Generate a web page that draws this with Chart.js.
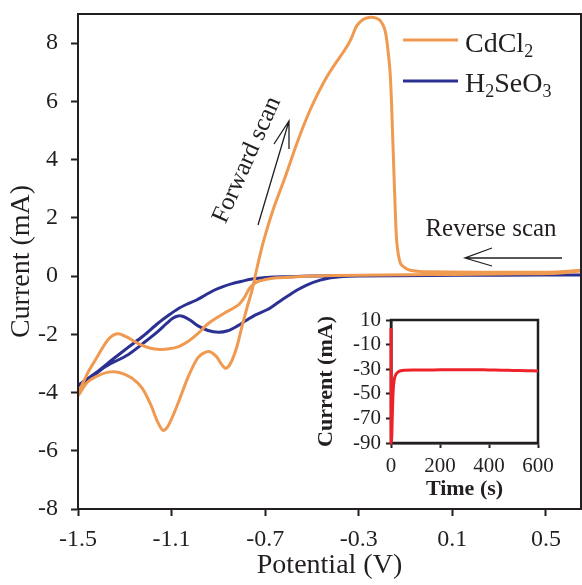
<!DOCTYPE html>
<html><head><meta charset="utf-8">
<script src="https://cdn.jsdelivr.net/npm/chart.js@4"></script>
<style>
html,body{margin:0;padding:0;background:#fff;}
#wrap{position:relative;width:582px;height:585px;overflow:hidden;}
#main{position:absolute;left:0;top:0;}
#inset{position:absolute;left:300px;top:300px;}
</style></head><body>
<div id="wrap"><canvas id="main" width="582" height="585"></canvas><canvas id="inset" width="270" height="205"></canvas></div>
<script>
// ---- data ----
const potentialTicks = [-1.5, -1.1, -0.7, -0.3, 0.1, 0.5];
const currentTicks = [-8, -6, -4, -2, 0, 2, 4, 6, 8];
const seriesNames = ['CdCl2', 'H2SeO3'];

const cdcl2Potential = [0.65, 0.55, 0.4, 0.2, 0.0, -0.2, -0.4, -0.5, -0.58, -0.65, -0.70, -0.735,
  -0.765, -0.79, -0.816, -0.88, -0.943, -0.987, -1.03, -1.07, -1.11, -1.15, -1.19, -1.24, -1.29, -1.33, -1.37, -1.427, -1.46, -1.5,
  -1.46, -1.427, -1.37, -1.32, -1.27, -1.226, -1.19, -1.16, -1.136, -1.115, -1.085, -1.055, -1.03, -0.987, -0.944, -0.91, -0.885, -0.868, -0.845, -0.82, -0.80, -0.778, -0.756, -0.734,
  -0.709, -0.666, -0.614, -0.563, -0.507, -0.435, -0.358, -0.344, -0.33, -0.308, -0.28, -0.251, -0.225, -0.208, -0.19, -0.179, -0.165, -0.154, -0.144, -0.137, -0.122, -0.1, -0.08, -0.04, 0.0, 0.2, 0.4, 0.55, 0.65];
const cdcl2Current = [0.17, 0.1, 0.08, 0.06, 0.05, 0.04, 0.02, 0.0, -0.03, -0.06, -0.12, -0.2,
  -0.4, -0.75, -1.0, -1.3, -1.63, -1.97, -2.25, -2.42, -2.5, -2.52, -2.48, -2.33, -2.1, -1.98, -2.17, -2.9, -3.35, -4.1,
  -3.65, -3.47, -3.3, -3.32, -3.5, -3.85, -4.4, -5.0, -5.3, -5.15, -4.62, -4.0, -3.48, -2.8, -2.59, -2.75, -3.05, -3.17, -2.95, -2.4, -1.76, -1.1, -0.48, 0.31,
  1.14, 2.28, 3.41, 4.59, 5.72, 6.86, 7.79, 7.97, 8.2, 8.6, 8.82, 8.89, 8.86, 8.77, 8.5, 8.02, 6.87, 4.58, 2.28, 1.13, 0.44, 0.27, 0.2, 0.16, 0.15, 0.13, 0.13, 0.14, 0.2];

const h2seo3Potential = [0.65, 0.3, 0.0, -0.3, -0.5, -0.6, -0.66, -0.709, -0.756, -0.80, -0.841, -0.88, -0.914, -0.955, -0.995, -1.03, -1.072, -1.11, -1.158, -1.22, -1.286, -1.35, -1.42, -1.5,
  -1.45, -1.38, -1.286, -1.22, -1.158, -1.12, -1.095, -1.072, -1.05, -1.02, -0.985, -0.944, -0.90, -0.86, -0.82, -0.78, -0.743, -0.69, -0.64, -0.6, -0.563, -0.52, -0.465, -0.42, -0.38, -0.3, 0.0, 0.3, 0.65];
const h2seo3Current = [0.04, 0.03, 0.02, 0.01, 0.0, -0.02, -0.03, -0.06, -0.1, -0.18, -0.26, -0.36, -0.47, -0.65, -0.83, -0.95, -1.12, -1.33, -1.62, -2.05, -2.45, -2.85, -3.3, -3.76,
  -3.52, -3.1, -2.7, -2.3, -1.9, -1.62, -1.45, -1.37, -1.39, -1.52, -1.72, -1.87, -1.93, -1.88, -1.72, -1.52, -1.34, -1.15, -0.88, -0.67, -0.48, -0.3, -0.14, -0.06, -0.02, 0.0, 0.02, 0.03, 0.04];

const timeTicks = [0, 200, 400, 600];
const insetCurrentTicks = [10, -10, -30, -50, -70, -90];
const insetTime = [0, 0.6, 3, 5.4, 9.5, 16, 30, 57, 100, 150, 200, 250, 300, 350, 400, 450, 500, 550, 600];
const insetCurrent = [3.5, -90, -85, -67, -45.5, -36, -32, -30.9, -30.7, -30.6, -30.5, -30.4, -30.4, -30.5, -30.6, -30.8, -31.0, -31.2, -31.4];

// ---- styles ----
const SERIF = "'Liberation Serif', 'Times New Roman', serif";
const INK = '#231f20';
const ORANGE = '#EF9A50';
const BLUE = '#2B3192';
const RED = '#EE2229';

const toXY = (xs, ys) => xs.map((x, i) => ({x, y: ys[i]}));
const noPadX = (h) => s => { s.height = h; s.paddingLeft = 0; s.paddingRight = 0; s.paddingTop = 0; s.paddingBottom = 0; };
const noPadY = (w) => s => { s.width = w; s.paddingTop = 0; s.paddingBottom = 0; s.paddingLeft = 0; s.paddingRight = 0; };

const framePlugin = {
  id: 'frame',
  afterDatasetsDraw(chart, args, opts) {
    const {ctx, chartArea: a} = chart;
    ctx.save();
    ctx.strokeStyle = INK; ctx.lineWidth = opts.width || 2;
    ctx.strokeRect(a.left, a.top, a.right - a.left, a.bottom - a.top);
    ctx.restore();
  }
};

function arrow(ctx, x1, y1, x2, y2, h1, h2) {
  ctx.beginPath();
  ctx.moveTo(x1, y1); ctx.lineTo(x2, y2);
  ctx.moveTo(h1[0], h1[1]); ctx.lineTo(x2, y2); ctx.lineTo(h2[0], h2[1]);
  ctx.stroke();
}
function subText(ctx, parts, x, y, size, subSize) {
  let cx = x;
  parts.forEach(p => {
    const isSub = p.startsWith('_');
    const t = isSub ? p.slice(1) : p;
    ctx.font = (isSub ? subSize : size) + 'px ' + SERIF;
    ctx.fillText(t, cx, isSub ? y + 5 : y);
    cx += ctx.measureText(t).width;
  });
}

const annotPlugin = {
  id: 'annot',
  afterDraw(chart) {
    const ctx = chart.ctx;
    ctx.save();
    // legend
    ctx.lineWidth = 3;
    ctx.strokeStyle = ORANGE;
    ctx.beginPath(); ctx.moveTo(403, 40); ctx.lineTo(458, 40); ctx.stroke();
    ctx.strokeStyle = BLUE;
    ctx.beginPath(); ctx.moveTo(403, 81); ctx.lineTo(458, 81); ctx.stroke();
    ctx.fillStyle = INK;
    ctx.textBaseline = 'alphabetic'; ctx.textAlign = 'left';
    subText(ctx, ['CdCl', '_2'], 465, 52, 28, 18);
    subText(ctx, ['H', '_2', 'SeO', '_3'], 465, 92, 28, 18);
    // arrows
    ctx.strokeStyle = INK; ctx.lineWidth = 1.3;
    arrow(ctx, 258, 225, 289, 121, [274, 144], [289, 149]);
    arrow(ctx, 562, 258, 465, 258, [492, 248], [492, 266]);
    // texts
    ctx.font = '25px ' + SERIF;
    ctx.textAlign = 'center'; ctx.textBaseline = 'middle';
    ctx.fillText('Reverse scan', 491, 229);
    ctx.translate(247, 160);
    ctx.rotate(-66 * Math.PI / 180);
    ctx.fillText('Forward scan', 0, 0);
    ctx.restore();
  }
};

const axisGrid = (len, w) => ({display: true, drawOnChartArea: false, drawTicks: true, tickLength: len, tickWidth: w, tickColor: INK, color: INK});

new Chart(document.getElementById('main'), {
  type: 'scatter',
  data: {
    datasets: [
      {label: seriesNames[0], data: toXY(cdcl2Potential, cdcl2Current), borderColor: ORANGE, showLine: true},
      {label: seriesNames[1], data: toXY(h2seo3Potential, h2seo3Current), borderColor: BLUE, showLine: true}
    ]
  },
  options: {
    responsive: false, animation: false, devicePixelRatio: 1,
    layout: {padding: {top: 14, right: 1, left: 0, bottom: 0}},
    plugins: {legend: {display: false}, tooltip: {enabled: false}, frame: {width: 2}},
    elements: {point: {radius: 0}, line: {borderWidth: 3, tension: 0.3, fill: false}},
    scales: {
      x: {
        type: 'linear', min: -1.5, max: 0.65,
        afterBuildTicks: s => { s.ticks = potentialTicks.map(v => ({value: v})); },
        afterFit: noPadX(76),
        grid: axisGrid(7, 2),
        border: {display: true, color: INK, width: 2},
        ticks: {font: {family: SERIF, size: 24}, color: INK, padding: 9, maxRotation: 0, autoSkip: false, callback: v => v.toFixed(1)},
        title: {display: true, text: 'Potential (V)', font: {family: SERIF, size: 28, lineHeight: 1.2}, color: INK, padding: {top: 0, bottom: 3}}
      },
      y: {
        type: 'linear', min: -8, max: 9,
        afterBuildTicks: s => { s.ticks = currentTicks.map(v => ({value: v})); },
        afterFit: noPadY(78),
        grid: axisGrid(7, 2),
        border: {display: true, color: INK, width: 2},
        ticks: {font: {family: SERIF, size: 24}, color: INK, padding: 13, autoSkip: false, callback: v => String(v)},
        title: {display: true, text: 'Current (mA)', font: {family: SERIF, size: 28, lineHeight: 1.2}, color: INK, padding: {top: 5, bottom: 0}}
      }
    }
  },
  plugins: [framePlugin, annotPlugin]
});

const insetFrame = {
  id: 'insetFrame',
  beforeDatasetsDraw(chart) {
    const {ctx, chartArea: a} = chart;
    ctx.save();
    ctx.strokeStyle = INK; ctx.lineWidth = 2.5;
    ctx.strokeRect(a.left, a.top, a.right - a.left, a.bottom - a.top);
    ctx.restore();
  }
};

new Chart(document.getElementById('inset'), {
  type: 'scatter',
  data: {datasets: [{label: 'Current', data: toXY(insetTime, insetCurrent), borderColor: RED, showLine: true, clip: 3}]},
  options: {
    responsive: false, animation: false, devicePixelRatio: 1,
    layout: {padding: {top: 20, right: 32, left: 0, bottom: 0}},
    plugins: {legend: {display: false}, tooltip: {enabled: false}},
    elements: {point: {radius: 0}, line: {borderWidth: 3, tension: 0.3, fill: false}},
    scales: {
      x: {
        type: 'linear', min: 0, max: 600,
        afterBuildTicks: s => { s.ticks = timeTicks.map(v => ({value: v})); },
        afterFit: noPadX(62),
        grid: axisGrid(5, 2),
        border: {display: true, color: INK, width: 2.5},
        ticks: {font: {family: SERIF, size: 21}, color: INK, padding: 6, maxRotation: 0, autoSkip: false, callback: v => String(v)},
        title: {display: true, text: 'Time (s)', font: {family: SERIF, size: 22, weight: 'bold', lineHeight: 1.2}, color: INK, padding: {top: 0, bottom: 2}}
      },
      y: {
        type: 'linear', min: -90, max: 10,
        afterBuildTicks: s => { s.ticks = insetCurrentTicks.map(v => ({value: v})); },
        afterFit: noPadY(91),
        grid: axisGrid(5, 2),
        border: {display: true, color: INK, width: 2.5},
        ticks: {font: {family: SERIF, size: 21}, color: INK, padding: 5, autoSkip: false, callback: v => String(v)},
        title: {display: true, text: 'Current (mA)', font: {family: SERIF, size: 22, weight: 'bold', lineHeight: 1.2}, color: INK, padding: {top: 13, bottom: 0}}
      }
    }
  },
  plugins: [insetFrame]
});
</script>
</body></html>
